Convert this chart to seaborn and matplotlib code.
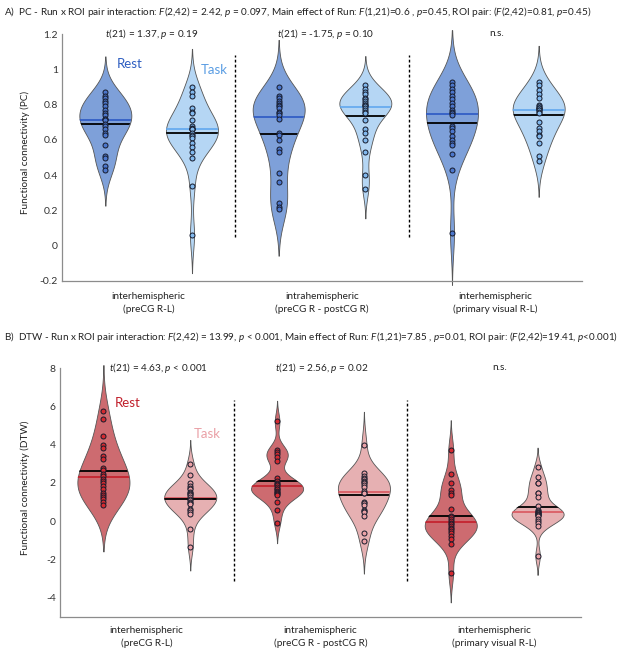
import matplotlib
matplotlib.use("Agg")
import matplotlib.pyplot as plt
import numpy as np
import seaborn as sns

# ROI pairs and runs
roi_labels = [
    "interhemispheric\n(preCG R-L)",
    "intrahemispheric\n(preCG R - postCG R)",
    "interhemispheric\n(primary visual R-L)",
]
runs = ["Rest", "Task"]

# PC per subject (n=22), one list per ROI pair
pc_rest = [
    [0.87, 0.85, 0.84, 0.82, 0.81, 0.79, 0.77, 0.75, 0.74, 0.72, 0.72,
     0.71, 0.69, 0.68, 0.66, 0.64, 0.63, 0.57, 0.51, 0.50, 0.45, 0.43],
    [0.90, 0.85, 0.84, 0.82, 0.81, 0.80, 0.79, 0.78, 0.76, 0.75, 0.74,
     0.72, 0.64, 0.63, 0.60, 0.55, 0.53, 0.41, 0.36, 0.24, 0.22, 0.21],
    [0.93, 0.91, 0.89, 0.87, 0.85, 0.83, 0.81, 0.79, 0.77, 0.76, 0.75,
     0.74, 0.68, 0.67, 0.65, 0.62, 0.60, 0.58, 0.57, 0.52, 0.43, 0.07],
]
pc_task = [
    [0.90, 0.87, 0.85, 0.78, 0.76, 0.75, 0.71, 0.68, 0.67, 0.66, 0.66,
     0.66, 0.64, 0.63, 0.62, 0.61, 0.58, 0.56, 0.53, 0.50, 0.34, 0.06],
    [0.91, 0.89, 0.87, 0.86, 0.84, 0.83, 0.82, 0.81, 0.80, 0.80, 0.79,
     0.78, 0.77, 0.76, 0.75, 0.71, 0.66, 0.64, 0.60, 0.53, 0.40, 0.32],
    [0.93, 0.91, 0.88, 0.86, 0.84, 0.80, 0.79, 0.78, 0.78, 0.78, 0.77,
     0.77, 0.76, 0.75, 0.70, 0.67, 0.65, 0.63, 0.62, 0.58, 0.51, 0.48],
]

# DTW per subject (n=22)
dtw_rest = [
    [5.73, 5.33, 4.43, 4.00, 3.83, 3.39, 3.26, 2.79, 2.65, 2.49, 2.35,
     2.22, 2.10, 2.01, 1.84, 1.66, 1.49, 1.35, 1.25, 1.18, 1.00, 0.85],
    [5.21, 3.71, 3.60, 3.52, 3.34, 3.17, 2.25, 2.10, 2.00, 1.95, 1.87,
     1.78, 1.70, 1.66, 1.60, 1.52, 1.45, 1.40, 1.35, 1.00, 0.57, -0.07],
    [3.74, 2.49, 1.97, 1.63, 1.49, 1.35, 0.62, 0.28, 0.20, 0.10, 0.00,
     -0.07, -0.15, -0.24, -0.35, -0.42, -0.50, -0.59, -0.76, -0.94, -1.19, -2.70],
]
dtw_task = [
    [3.00, 2.39, 2.01, 1.84, 1.75, 1.66, 1.55, 1.49, 1.42, 1.35, 1.25,
     1.18, 1.10, 1.00, 0.95, 0.88, 0.66, 0.60, 0.48, 0.36, -0.42, -1.33],
    [4.00, 2.53, 2.35, 2.25, 2.18, 2.10, 2.05, 1.97, 1.90, 1.78, 1.58,
     1.50, 1.45, 1.00, 0.95, 0.83, 0.60, 0.55, 0.48, 0.28, -0.64, -1.02],
    [2.84, 2.32, 2.01, 2.00, 1.45, 1.45, 1.28, 0.80, 0.60, 0.54, 0.50,
     0.45, 0.42, 0.38, 0.35, 0.30, 0.28, 0.14, 0.02, -0.10, -0.24, -1.80],
]

pc_title = ("A)  PC - Run x ROI pair interaction: $F$(2,42) = 2.42, $p$ = 0.097, "
            "Main effect of Run: $F$(1,21)=0.6 , $p$=0.45, ROI pair: ($F$(2,42)=0.81, $p$=0.45)")
dtw_title = ("B)  DTW - Run x ROI pair interaction: $F$(2,42) = 13.99, $p$ < 0.001, "
             "Main effect of Run: $F$(1,21)=7.85 , $p$=0.01, ROI pair: ($F$(2,42)=19.41, $p$<0.001)")
pc_ttests = ["$t$(21) = 1.37, $p$ = 0.19", "$t$(21) = -1.75, $p$ = 0.10", "n.s."]
dtw_ttests = ["$t$(21) = 4.63, $p$ < 0.001", "$t$(21) = 2.56, $p$ = 0.02", "n.s."]

pc_colors = {
    "violin": ["#7ea0d9", "#b5d6f4"],
    "median": ["#2c58c4", "#62a8ee"],
    "point": ["#4c77cc", "#82b9ee"],
    "text": ["#2f5fc1", "#5a9de3"],
}
dtw_colors = {
    "violin": ["#cd6b70", "#e6b0b2"],
    "median": ["#c41e2a", "#d9575f"],
    "point": ["#d42a30", "#eca2a7"],
    "text": ["#c1202c", "#eaa0a6"],
}


def robust_bw(kde):
    """ksdensity風のロバストなバンド幅"""
    x = np.asarray(kde.dataset).ravel()
    sig = np.median(np.abs(x - np.median(x))) / 0.6745
    return sig * (4 / (3 * x.size)) ** 0.2 / x.std(ddof=1)


def draw_panel(ax, rest, task, colors, ylabel, yticks, ylim, ttests, layout):
    for i in range(len(roi_labels)):
        for j, vals in enumerate([rest[i], task[i]]):
            pos = 2 * i + j + 1
            x = np.full(len(vals), pos, dtype=float)
            sns.violinplot(x=x, y=vals, native_scale=True, orient="x", ax=ax,
                           color=colors["violin"][j], saturation=1, inner=None,
                           density_norm="width", width=0.6, cut=2.5, gridsize=300,
                           bw_method=robust_bw, bw_adjust=1.2,
                           linecolor="#555555", linewidth=0.6)
            poly = ax.collections[-1]
            poly.set_clip_on(False)
            path = poly.get_paths()[0]

            # 中央値(色)と平均(黒)はバイオリンの幅に合わせて切り取る
            for val, col, lw in [(np.median(vals), colors["median"][j], 1.2),
                                 (np.mean(vals), "black", 1.3)]:
                ln, = ax.plot([pos - 0.4, pos + 0.4], [val, val], color=col, lw=lw, zorder=3)
                ln.set_clip_path(path, ax.transData)
                ln.set_clip_box(None)

            sns.stripplot(x=x, y=vals, native_scale=True, orient="x", ax=ax, jitter=False,
                          color=colors["point"][j], edgecolor="#151a2a", linewidth=0.7,
                          size=3.6, zorder=4)

    # グループ区切りの点線
    n_pos = 2 * len(roi_labels)
    for k in range(1, len(roi_labels)):
        ax.vlines(2 * k + 0.5, *layout["sep"], color="black", lw=1.0,
                  linestyles=(0, (2, 1.6)))

    ax.set_xlim(0.5, n_pos + 0.5)
    ax.set_ylim(ylim)
    ax.set_yticks(yticks)
    ax.set_yticklabels([f"{t:g}" for t in yticks])
    ax.set_xticks([])
    ax.set_xlabel("")
    ax.set_ylabel(ylabel, fontsize=7.2, color="#222222")
    ax.yaxis.set_label_coords(layout["ylabel_x"], 0.52)
    ax.tick_params(axis="y", length=0, pad=3, labelsize=7.5, labelcolor="#333333")
    for side in ["top", "right"]:
        ax.spines[side].set_visible(False)
    for side in ["left", "bottom"]:
        ax.spines[side].set_color("#8c8c8c")
        ax.spines[side].set_linewidth(0.9)

    trans = ax.get_xaxis_transform()
    for i, lab in enumerate(roi_labels):
        ax.text(2 * i + 1.5, layout["label_y"], lab, transform=trans, ha="center",
                va="center", fontsize=7.2, linespacing=1.55, color="#222222")
    for k, txt in enumerate(ttests):
        ha = "center" if txt == "n.s." else "left"
        ax.text(layout["stat_x"][k], 1.0, txt, transform=trans, ha=ha,
                va="center", fontsize=7.2, color="#222222")
    for j, run in enumerate(runs):
        ax.text(*layout["run_xy"][j], run, ha="left", va="center", fontsize=9.5,
                color=colors["text"][j])


sns.set_style("white")
plt.rcParams["font.family"] = ["Lato", "DejaVu Sans"]
plt.rcParams["mathtext.fontset"] = "custom"
plt.rcParams["mathtext.rm"] = "Lato"
plt.rcParams["mathtext.it"] = "Lato:italic"
plt.rcParams["axes.unicode_minus"] = False

fig = plt.figure(figsize=(6.25, 6.5), dpi=100)
W, H = 625, 650
ax_a = fig.add_axes([62 / W, 1 - 281 / H, (582 - 62) / W, (281 - 34) / H])
ax_b = fig.add_axes([60 / W, 1 - 617 / H, (581 - 60) / W, (617 - 368) / H])

draw_panel(
    ax_a, pc_rest, pc_task, pc_colors, "Functional connectivity (PC)",
    np.round(np.arange(-0.2, 1.21, 0.2), 1), (-0.2, 1.2), pc_ttests,
    {"sep": (0.05, 1.08), "ylabel_x": -0.062, "label_y": -0.089,
     "stat_x": [1.0, 2.98, 5.52], "run_xy": [(1.13, 1.03), (2.10, 0.996)]},
)
draw_panel(
    ax_b, dtw_rest, dtw_task, dtw_colors, "Functional connectivity (DTW)",
    np.arange(-4, 9, 2), (-5, 8), dtw_ttests,
    {"sep": (-3.1, 6.34), "ylabel_x": -0.058, "label_y": -0.08,
     "stat_x": [1.07, 2.98, 5.56], "run_xy": [(1.13, 6.18), (2.04, 4.57)]},
)

fig.text(4 / W, 1 - 12 / H, pc_title, ha="left", va="center", fontsize=7.2, color="#222222")
fig.text(4 / W, 1 - 337 / H, dtw_title, ha="left", va="center", fontsize=7.1, color="#222222")

fig.savefig("out.png", dpi=100, facecolor="white")
plt.close(fig)
